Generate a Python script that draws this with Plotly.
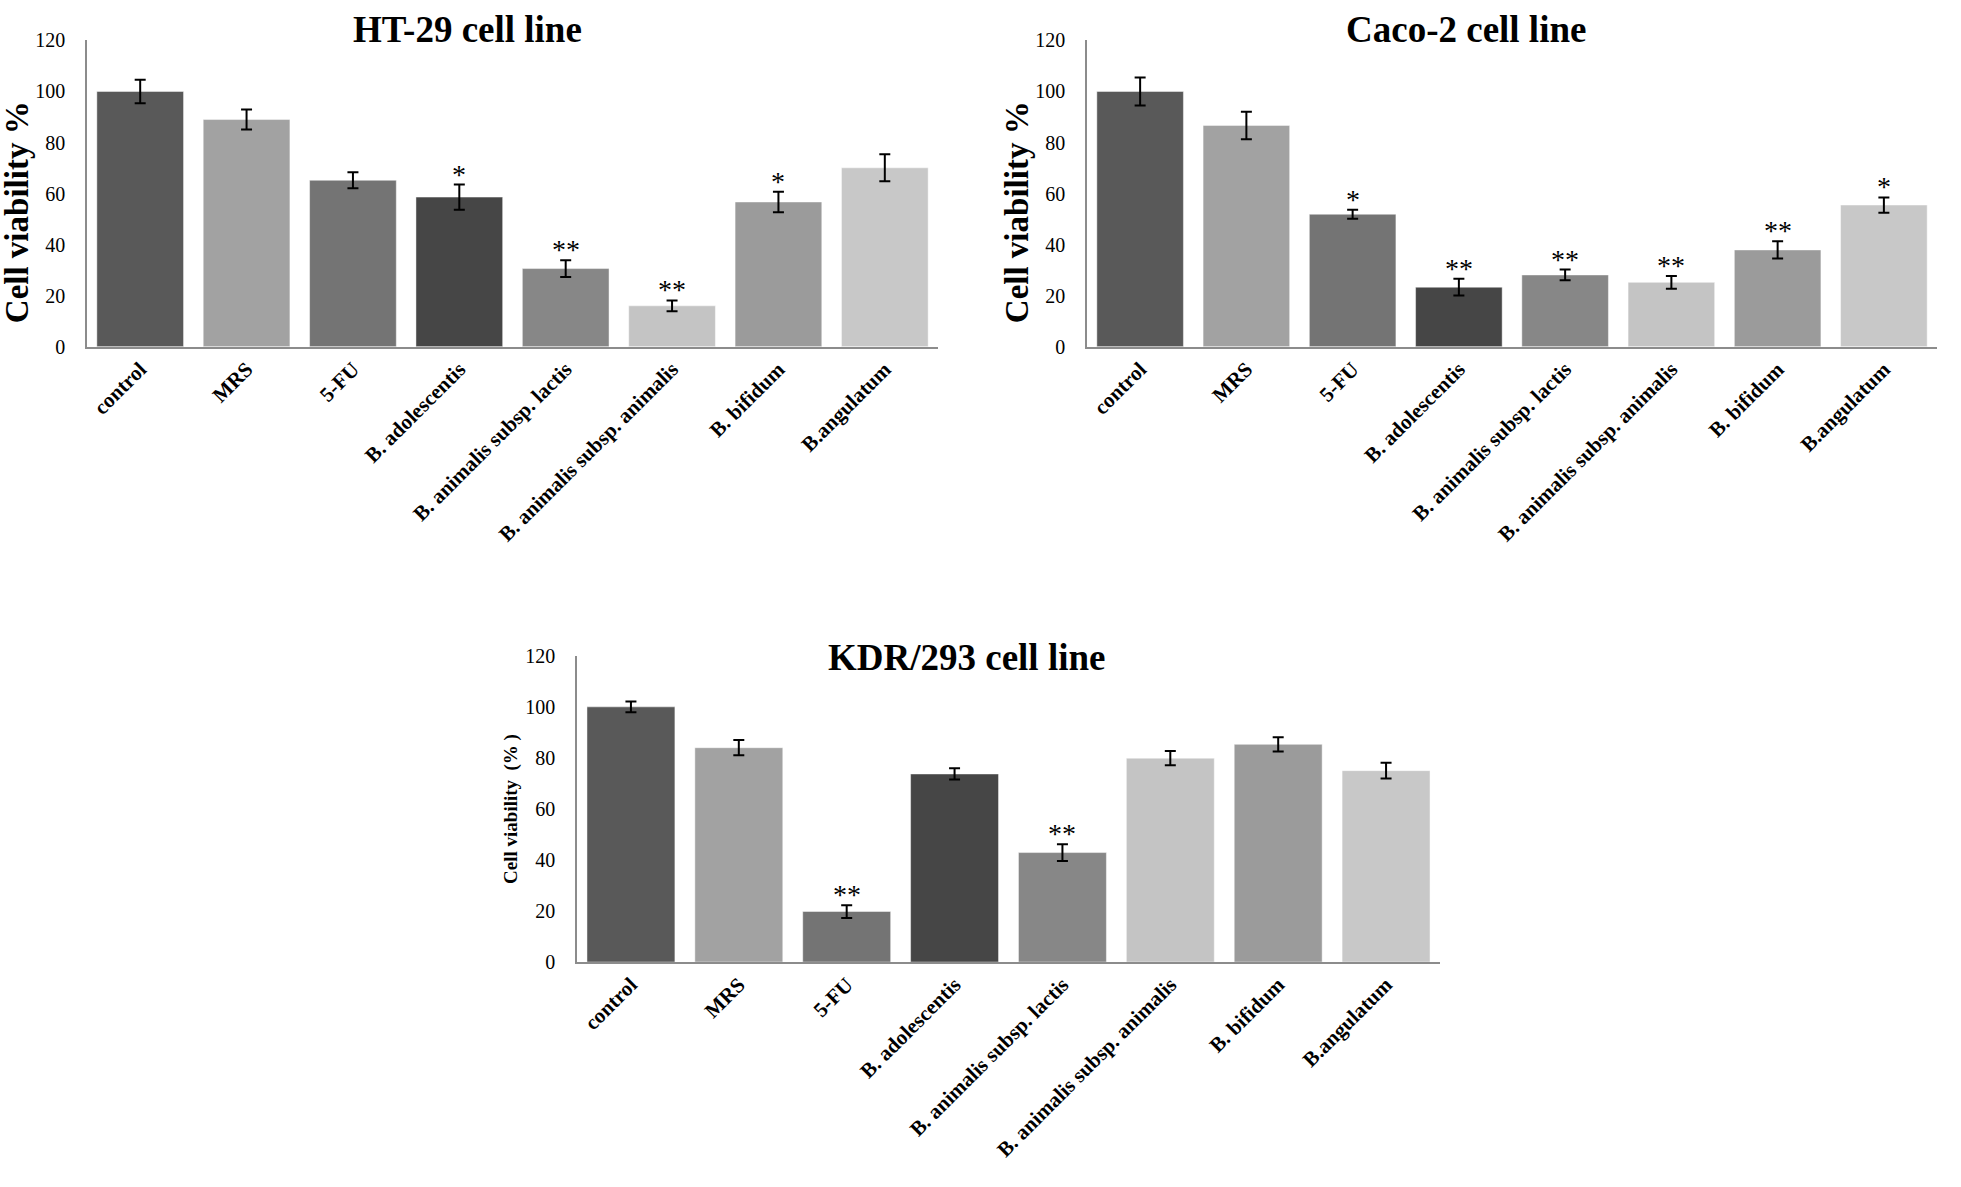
import plotly.graph_objects as go

categories = ["control", "MRS", "5-FU", "B. adolescentis", "B. animalis subsp. lactis",
              "B. animalis subsp. animalis", "B. bifidum", "B.angulatum"]
bar_colors = ["#595959", "#a2a2a2", "#747474", "#464646", "#878787", "#c4c4c4", "#9b9b9b", "#c8c8c8"]

ht29_values = [100.0, 89.0, 65.2, 58.6, 30.6, 16.0, 56.7, 70.1]
ht29_errors = [4.6, 3.9, 3.1, 4.9, 3.3, 2.1, 4.0, 5.3]
ht29_stars = ["", "", "", "*", "**", "**", "*", ""]

caco2_values = [100.0, 86.7, 51.9, 23.3, 28.1, 25.2, 37.9, 55.5]
caco2_errors = [5.5, 5.4, 1.8, 3.3, 2.1, 2.5, 3.4, 3.0]
caco2_stars = ["", "", "*", "**", "**", "**", "**", "*"]

kdr_values = [100.0, 84.0, 19.8, 73.7, 42.9, 79.9, 85.3, 75.0]
kdr_errors = [2.1, 3.0, 2.5, 2.2, 3.3, 2.8, 2.8, 3.1]
kdr_stars = ["", "", "**", "", "**", "", "", ""]

y_ticks = [0, 20, 40, 60, 80, 100, 120]

W, H = 1961, 1187
SERIF = "Liberation Serif, Times New Roman, serif"

panels = [
    dict(values=ht29_values, errors=ht29_errors, stars=ht29_stars, title="HT-29 cell line",
         ytitle="Cell viability %", ytsize=33, x0=87, x1=938, y0=30, y1=342,
         tx=467, ty=19, yx=17, yy=205),
    dict(values=caco2_values, errors=caco2_errors, stars=caco2_stars, title="Caco-2 cell line",
         ytitle="Cell viability %", ytsize=33, x0=1087, x1=1937, y0=30, y1=342,
         tx=1466, ty=19, yx=1017, yy=205),
    dict(values=kdr_values, errors=kdr_errors, stars=kdr_stars, title="KDR/293 cell line",
         ytitle="Cell viability\u00a0 (%\u00a0)", ytsize=19, x0=577, x1=1440, y0=657, y1=969,
         tx=966, ty=659, yx=511, yy=813),
]

fig = go.Figure()
annotations = []
layout_axes = {}
for i, p in enumerate(panels, start=1):
    xa = "x" if i == 1 else f"x{i}"
    ya = "y" if i == 1 else f"y{i}"
    fig.add_trace(go.Bar(
        x=categories, y=p["values"], xaxis=xa, yaxis=ya,
        marker=dict(color=bar_colors, line=dict(color="rgba(255,255,255,0.45)", width=1)),
        error_y=dict(type="data", array=p["errors"], color="black", thickness=2, width=5.5),
        showlegend=False, hoverinfo="x+y",
    ))
    xkey = "xaxis" if i == 1 else f"xaxis{i}"
    ykey = "yaxis" if i == 1 else f"yaxis{i}"
    layout_axes[xkey] = dict(
        domain=[p["x0"] / W, p["x1"] / W], anchor=ya, type="category",
        showline=True, linecolor="#8c8c8c", linewidth=2, showgrid=False, zeroline=False,
        ticks="", tickangle=-45,
        tickfont=dict(family=SERIF, size=21, color="black", weight="bold"),
    )
    layout_axes[ykey] = dict(
        domain=[1 - p["y1"] / H, 1 - p["y0"] / H], anchor=xa, range=[0, 120],
        tickvals=y_ticks, showline=True, linecolor="#8c8c8c", linewidth=1.5,
        showgrid=False, zeroline=False, ticks="", ticklabelstandoff=16,
        tickfont=dict(family=SERIF, size=20, color="black"),
    )
    annotations.append(dict(
        text=f"<b>{p['title']}</b>", xref="paper", yref="paper",
        x=p["tx"] / W, y=1 - p["ty"] / H, xanchor="center", yanchor="middle",
        showarrow=False, font=dict(family=SERIF, size=37, color="black"),
    ))
    annotations.append(dict(
        text=f"<b>{p['ytitle']}</b>", xref="paper", yref="paper",
        x=p["yx"] / W, y=1 - p["yy"] / H, xanchor="center", yanchor="middle",
        textangle=-90, showarrow=False, font=dict(family=SERIF, size=p["ytsize"], color="black"),
    ))
    for cat, v, e, s in zip(categories, p["values"], p["errors"], p["stars"]):
        if s:
            annotations.append(dict(
                text=s, xref=xa, yref=ya, x=cat, y=v + e, xanchor="center", yanchor="bottom",
                yshift=-7, showarrow=False, font=dict(family=SERIF, size=28, color="black"),
            ))

fig.update_layout(
    width=W, height=H, margin=dict(l=0, r=0, t=0, b=0),
    paper_bgcolor="white", plot_bgcolor="white", bargap=0.185,
    annotations=annotations, **layout_axes,
)
fig.write_html(
    "out.html",
    config={"displayModeBar": False},
    post_script="document.body.style.margin='0';document.body.style.overflow='hidden';",
)
